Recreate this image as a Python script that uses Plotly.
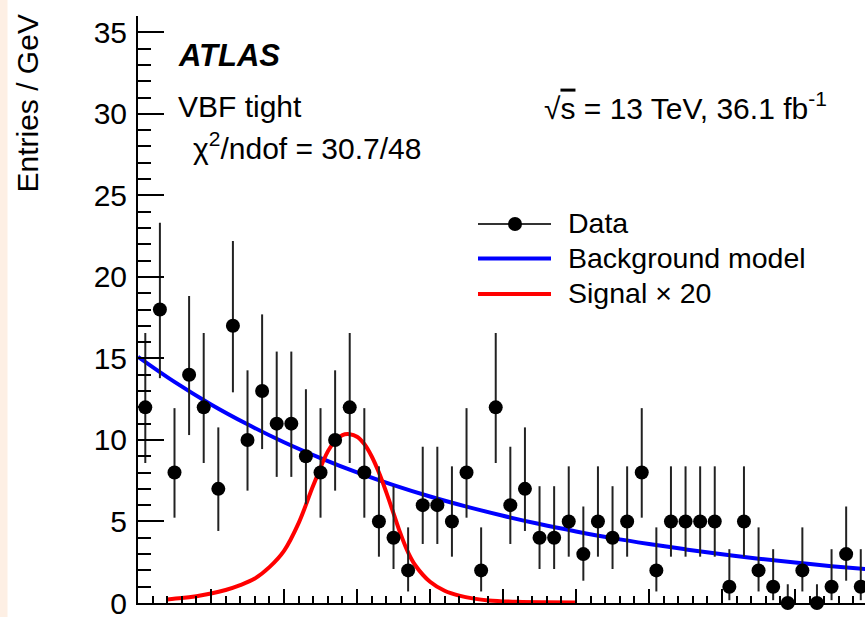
import plotly.graph_objects as go

# ---------------- data ----------------
bin_centres = [110.5 + i for i in range(50)]
counts = [12, 18, 8, 14, 12, 7, 17, 10, 13, 11,
          11, 9, 8, 10, 12, 8, 5, 4, 2, 6,
          6, 5, 8, 2, 12, 6, 7, 4, 4, 5,
          3, 5, 4, 5, 8, 2, 5, 5, 5, 5,
          1, 5, 2, 1, 0, 2, 0, 1, 3, 1]

# 68% Poisson interval edges, indexed by count
poisson_low = [0.0, 0.173, 0.708, 1.367, 2.086, 2.840, 3.620, 4.419, 5.232, 6.057,
               6.891, 7.734, 8.585, 9.441, 10.30, 11.17, 12.04, 12.92, 13.79]
poisson_high = [1.15, 3.300, 4.638, 5.918, 7.163, 8.382, 9.584, 10.77, 11.95, 13.11,
                14.27, 15.42, 16.56, 17.70, 18.83, 19.96, 21.08, 22.20, 23.32]

err_plus = [poisson_high[n] - n for n in counts]
err_minus = [n - poisson_low[n] for n in counts]

bkg_mass = [110, 112.5, 115, 117.5, 120, 122.5, 125, 127.5, 130, 132.5, 135,
            137.5, 140, 142.5, 145, 147.5, 150, 152.5, 155, 157.5, 160]
bkg_value = [15.10, 13.56, 12.18, 10.96, 9.86, 8.89, 8.01, 7.23, 6.53, 5.91, 5.35,
             4.84, 4.39, 3.98, 3.62, 3.29, 2.99, 2.72, 2.48, 2.26, 2.07]

sig_mass = [112, 113, 114, 115, 116, 117, 118, 119, 120, 121, 122, 123, 123.5, 124,
            124.5, 125, 125.5, 126, 126.5, 127, 127.5, 128, 128.5, 129, 130, 131,
            132, 133, 134, 136, 138, 140]
sig_value = [0.22, 0.3, 0.42, 0.58, 0.8, 1.1, 1.5, 2.2, 3.2, 4.9, 7.2, 9.3, 9.95, 10.3,
             10.35, 10.2, 9.75, 9.0, 8.0, 6.8, 5.5, 4.2, 3.1, 2.3, 1.3, 0.75,
             0.45, 0.27, 0.16, 0.07, 0.04, 0.03]

y_tick_values = [0, 5, 10, 15, 20, 25, 30, 35]
y_tick_labels = ["0", "5", "10", "15", "20", "25", "30", "35"]

legend_labels = ["Data", "Background model", "Signal × 20"]

x_range = [110, 159.79]
y_range = [0, 36]

FONT = "Liberation Sans, Arial, Helvetica, sans-serif"

# ---------------- figure ----------------
W, H = 865, 617
ML, MR, MT, MB = 138, 0, 16, 14
PW, PH = W - ML - MR, H - MT - MB


def px_x(px):
    return (px - ML) / PW


def px_y(py):
    return (H - MB - py) / PH


fig = go.Figure()

fig.add_trace(go.Scatter(
    x=bkg_mass, y=bkg_value, mode="lines", line=dict(color="#0000ff", width=4, shape="spline"),
    name=legend_labels[1]))
fig.add_trace(go.Scatter(
    x=sig_mass, y=sig_value, mode="lines", line=dict(color="#ff0000", width=4, shape="spline"),
    name=legend_labels[2]))
fig.add_trace(go.Scatter(
    x=bin_centres, y=counts, mode="markers",
    marker=dict(color="black", size=14),
    error_y=dict(type="data", array=err_plus, arrayminus=err_minus, symmetric=False,
                 color="#222222", thickness=2, width=0),
    name=legend_labels[0], cliponaxis=False))

tick_common = dict(ticks="inside", tickcolor="black", tickwidth=2,
                   showgrid=False, zeroline=False)
minor_x = dict(dtick=1, ticklen=7, ticks="inside", tickcolor="black", tickwidth=2)
minor_y = dict(dtick=1, tick0=0, ticklen=13, ticks="inside", tickcolor="black", tickwidth=2)

fig.update_layout(
    width=W, height=H,
    margin=dict(l=ML, r=MR, t=MT, b=MB, pad=0, autoexpand=False),
    paper_bgcolor="white", plot_bgcolor="white",
    font=dict(family=FONT, size=30, color="black"),
    showlegend=False,
    xaxis=dict(range=x_range, showline=True, linecolor="black", linewidth=2,
               tick0=110, dtick=5, ticklen=14, showticklabels=False, minor=minor_x,
               automargin=False, **tick_common),
    xaxis2=dict(range=x_range, overlaying="x", side="top", anchor="y", showline=True,
                linecolor="black", linewidth=2, tick0=110, dtick=5, ticklen=14,
                showticklabels=False, minor=minor_x, automargin=False, **tick_common),
    yaxis=dict(range=y_range, showline=True, linecolor="black", linewidth=2,
               tickmode="array", tickvals=y_tick_values, ticktext=y_tick_labels,
               ticklen=26, showticklabels=True, ticklabeloverflow="allow",
               tickfont=dict(family=FONT, size=30), ticklabelstandoff=3,
               minor=minor_y, automargin=False, **tick_common),
    yaxis2=dict(range=y_range, overlaying="y", side="right", anchor="x", showline=False,
                tick0=0, dtick=5, ticklen=26, showticklabels=False, minor=minor_y,
                automargin=False, **tick_common),
)

# pale strip at the left edge
fig.add_shape(type="rect", xref="paper", yref="paper",
              x0=px_x(0), x1=px_x(7.5), y0=px_y(H), y1=px_y(0),
              fillcolor="#fdefe4", line=dict(width=0), layer="below")

ann = dict(xref="paper", yref="paper", showarrow=False)


def font(size):
    return dict(family=FONT, size=size, color="black")


fig.add_annotation(text="Entries / GeV", x=px_x(27), y=px_y(103.5), textangle=-90,
                   xanchor="center", yanchor="middle", font=font(30), **ann)
fig.add_annotation(text="<b><i>ATLAS</i></b>", x=px_x(176), y=px_y(55),
                   xanchor="left", yanchor="middle", font=font(31), **ann)
fig.add_annotation(text="VBF tight", x=px_x(176), y=px_y(106),
                   xanchor="left", yanchor="middle", font=font(30), **ann)
fig.add_annotation(text="χ<sup>2</sup>/ndof = 30.7/48", x=px_x(191), y=px_y(146),
                   xanchor="left", yanchor="middle", font=font(30), **ann)
fig.add_annotation(text="√<span style='text-decoration:overline'>s</span> = 13 TeV, 36.1 fb<sup>-1</sup>",
                   x=px_x(542), y=px_y(106), xanchor="left", yanchor="middle", font=font(30), **ann)

# legend drawn as keys + labels
key_x0, key_x1 = px_x(478), px_x(551)
legend_rows = [224, 258.5, 294]
fig.add_shape(type="line", xref="paper", yref="paper", x0=key_x0, x1=key_x1,
              y0=px_y(legend_rows[0]), y1=px_y(legend_rows[0]), line=dict(color="#333333", width=2))
fig.add_shape(type="circle", xref="paper", yref="paper", x0=px_x(508), x1=px_x(522),
              y0=px_y(legend_rows[0] + 7), y1=px_y(legend_rows[0] - 7),
              fillcolor="black", line=dict(color="black", width=0))
fig.add_shape(type="line", xref="paper", yref="paper", x0=key_x0, x1=key_x1,
              y0=px_y(legend_rows[1]), y1=px_y(legend_rows[1]), line=dict(color="#0000ff", width=4))
fig.add_shape(type="line", xref="paper", yref="paper", x0=key_x0, x1=key_x1,
              y0=px_y(legend_rows[2]), y1=px_y(legend_rows[2]), line=dict(color="#ff0000", width=4))
for label, row in zip(legend_labels, legend_rows):
    fig.add_annotation(text=label, x=px_x(566), y=px_y(row - 1), xanchor="left",
                       yanchor="middle", font=font(28.5), **ann)

fig.write_html("out.html", config={"displayModeBar": False},
               post_script="document.body.style.margin='0px';")
